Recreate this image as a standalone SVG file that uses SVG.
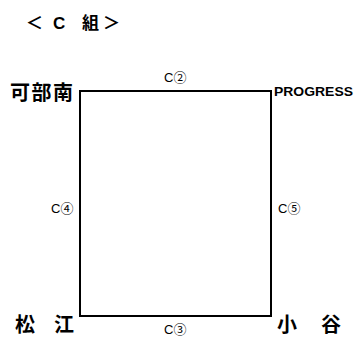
<svg xmlns="http://www.w3.org/2000/svg" width="355" height="337" viewBox="0 0 355 337">
<style>
.t{font-family:"Liberation Sans","Noto Sans CJK JP",sans-serif;fill:#000}
.b{font-weight:bold}
.big{font-size:20px;font-weight:bold}
.lab{font-size:13px}
</style>
<rect width="355" height="337" fill="#fff"/>
<g id="title" class="t b" font-size="17">
<text x="26" y="29">＜</text>
<text x="53" y="29">C</text>
<text x="82" y="29">組</text>
<text x="103" y="29">＞</text>
</g>
<g id="connectors">
<rect x="80" y="91" width="191" height="225" fill="none" stroke="#000" stroke-width="2"/>
</g>
<g id="n-kabeminami"><text class="t big" x="10" y="100" letter-spacing="1.5">可部南</text></g>
<g id="n-progress"><text class="t b" x="274" y="96" font-size="12" textLength="79" lengthAdjust="spacingAndGlyphs">PROGRESS</text></g>
<g id="n-matsue"><text class="t big" x="15" y="332">松</text><text class="t big" x="54" y="332">江</text></g>
<g id="n-otani"><text class="t big" x="277" y="332">小</text><text class="t big" x="321" y="332">谷</text></g>
<g id="l-c2"><text class="t lab" x="164" y="82">C②</text></g>
<g id="l-c4"><text class="t lab" x="51" y="213">C④</text></g>
<g id="l-c5"><text class="t lab" x="278" y="213">C⑤</text></g>
<g id="l-c3"><text class="t lab" x="164" y="334">C③</text></g>
</svg>
